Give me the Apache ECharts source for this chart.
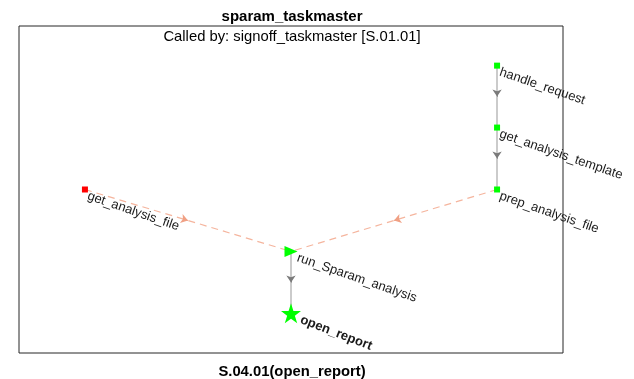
<!DOCTYPE html>
<html><head><meta charset="utf-8">
<script src="https://cdn.jsdelivr.net/npm/echarts@6/dist/echarts.min.js"></script>
<style>html,body{margin:0;padding:0;background:#fff}#c{width:634px;height:379px}</style>
</head><body><div id="c"></div>
<script>
const titleText = 'sparam_taskmaster';
const subtitleText = 'Called by: signoff_taskmaster [S.01.01]';
const footerText = 'S.04.01(open_report)';
const nodeNames = ['handle_request','get_analysis_template','prep_analysis_file','get_analysis_file','run_Sparam_analysis','open_report'];
const nodeX = [3,3,3,1,2,2];
const nodeY = [1,2,3,3,4,5];
const nodeType = ['task','task','task','missing','entry','exit'];
const edgeSrc = [0,1,2,3,4];
const edgeTgt = [1,2,4,4,5];
const edgeKind = ['call','call','data','data','call'];

const starPath = 'path://M50,0 L61.8,35.4 L99,35.4 L68.8,57.3 L80.4,92.7 L50,70.8 L19.6,92.7 L31.2,57.3 L1,35.4 L38.2,35.4 Z';
const nodeStyle = {
  task: {symbol:'rect', size:6, color:'#00ff00', rotate:0, bold:false},
  missing: {symbol:'rect', size:6, color:'#ff0000', rotate:0, bold:false},
  entry: {symbol:'triangle', size:[11,13], color:'#00ff00', rotate:-90, bold:false},
  exit: {symbol:starPath, size:20, color:'#00ff00', rotate:0, bold:true}
};
const edgeStyle = {
  call: {color:'#c6c6c6', arrow:'#7a7a7a', type:'solid', width:1.8},
  data: {color:'#f5b59e', arrow:'#f0a084', type:[7,5], width:1.2}
};

const edgeLines = [], arrowLines = [];
edgeSrc.forEach((s,i)=>{
  const t = edgeTgt[i];
  const a=[nodeX[s],nodeY[s]], b=[nodeX[t],nodeY[t]];
  const m=[(a[0]+b[0])/2,(a[1]+b[1])/2];
  const st = edgeStyle[edgeKind[i]];
  edgeLines.push({coords:[a,b], lineStyle:{color:st.color,type:st.type,width:st.width,opacity:1}});
  const e=0.02;
  arrowLines.push({coords:[[m[0]-(b[0]-a[0])*e, m[1]-(b[1]-a[1])*e], m], lineStyle:{color:st.arrow,width:1,opacity:1}});
});

const nodeData = nodeNames.map((n,i)=>{
  const st = nodeStyle[nodeType[i]];
  return {value:[nodeX[i],nodeY[i],n], symbol:st.symbol, symbolSize:st.size, symbolRotate:st.rotate,
    itemStyle:{color:st.color, opacity:1},
    label:{fontWeight: st.bold?'bold':'normal', rotate: st.bold?-21:-19}};
});

const chart = echarts.init(document.getElementById('c'));
chart.setOption({
  animation:false,
  title:[
    {text:titleText, left:287, top:4, textAlign:'center', textStyle:{fontFamily:'Liberation Sans', fontSize:15, fontWeight:'bold', color:'#000'}},
    {text:subtitleText, left:287, top:24, textAlign:'center', textStyle:{fontFamily:'Liberation Sans', fontSize:14.8, fontWeight:'normal', color:'#000'}},
    {text:footerText, left:287, top:359, textAlign:'center', textStyle:{fontFamily:'Liberation Sans', fontSize:14.8, fontWeight:'bold', color:'#000'}}
  ],
  grid:{left:19, right:71, top:26, bottom:26, show:true, borderColor:'#262626', borderWidth:1, backgroundColor:'#fff'},
  xAxis:{type:'value', min:0.68, max:3.32, show:false},
  yAxis:{type:'value', min:0.36, max:5.64, inverse:true, show:false},
  series:[
    {type:'lines', coordinateSystem:'cartesian2d', polyline:false, symbol:['none','none'], data:edgeLines, z:1, silent:true},
    {type:'lines', coordinateSystem:'cartesian2d', symbol:['none','arrow'], symbolSize:7, data:arrowLines, z:2, silent:true},
    {type:'scatter', data:nodeData, z:3,
     label:{show:true, position:'right', distance:2, align:'left', verticalAlign:'top',
       formatter:p=>p.value[2], fontFamily:'Liberation Sans', fontSize:13, color:'#1a1a1a'}}
  ]
});
</script></body></html>
